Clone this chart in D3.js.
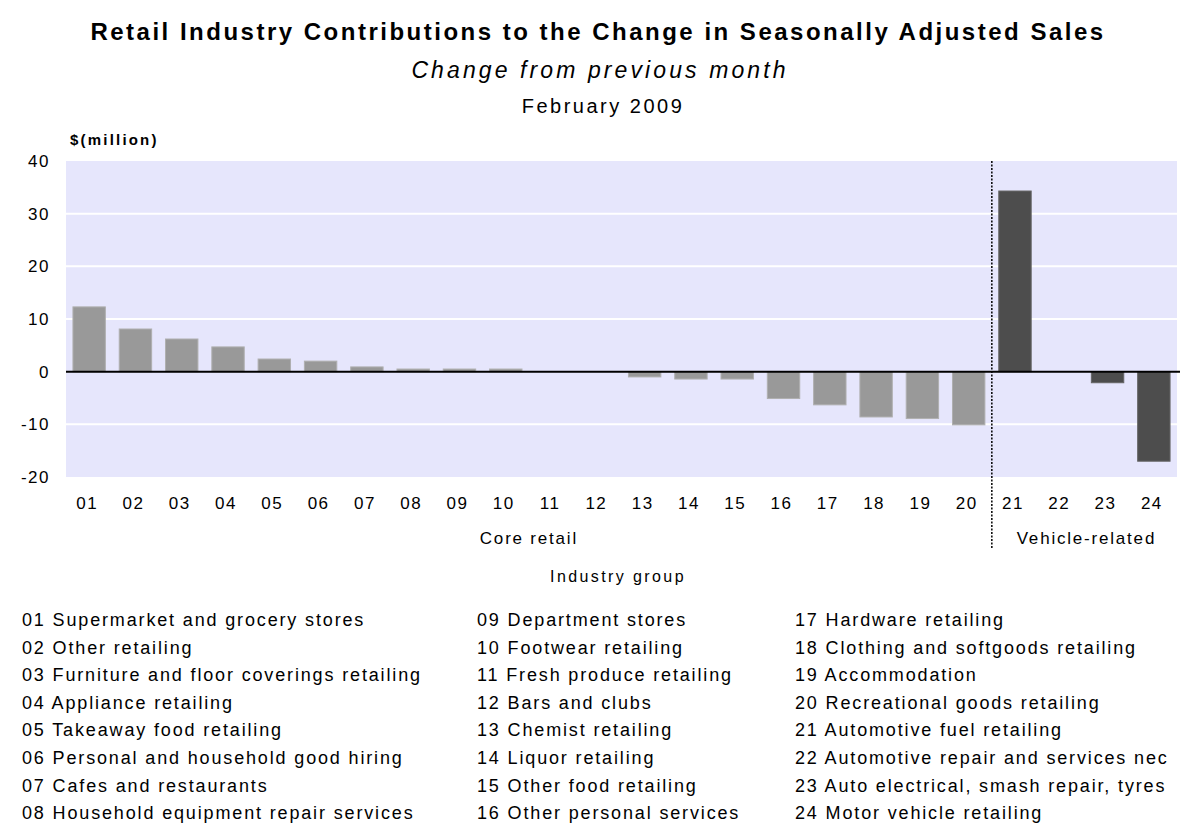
<!DOCTYPE html>
<html>
<head>
<meta charset="utf-8">
<script src="https://cdn.jsdelivr.net/npm/d3@7"></script>
<style>
	body { margin: 0; background: #fff; }
	#app { width: 1181px; height: 825px; }
	text { font-family: "Liberation Sans", Arial, sans-serif; fill: #000; }
</style>
</head>
<body>
<div id="app"></div>
<script>
// industry codes along the x axis
const codes = ['01', '02', '03', '04', '05', '06', '07', '08', '09', '10', '11', '12',
	'13', '14', '15', '16', '17', '18', '19', '20', '21', '22', '23', '24'];

// contribution to change, $ million
const values = [12.3, 8.1, 6.2, 4.7, 2.4, 2.0, 0.9, 0.5, 0.5, 0.5, 0, 0,
	-1.0, -1.4, -1.4, -5.1, -6.3, -8.6, -8.9, -10.1, 34.3, 0, -2.1, -17.0];

const groups = ['Core retail', 'Core retail', 'Core retail', 'Core retail', 'Core retail', 'Core retail',
	'Core retail', 'Core retail', 'Core retail', 'Core retail', 'Core retail', 'Core retail',
	'Core retail', 'Core retail', 'Core retail', 'Core retail', 'Core retail', 'Core retail',
	'Core retail', 'Core retail', 'Vehicle-related', 'Vehicle-related', 'Vehicle-related', 'Vehicle-related'];

const names = ['Supermarket and grocery stores', 'Other retailing', 'Furniture and floor coverings retailing',
	'Appliance retailing', 'Takeaway food retailing', 'Personal and household good hiring',
	'Cafes and restaurants', 'Household equipment repair services', 'Department stores',
	'Footwear retailing', 'Fresh produce retailing', 'Bars and clubs', 'Chemist retailing',
	'Liquor retailing', 'Other food retailing', 'Other personal services', 'Hardware retailing',
	'Clothing and softgoods retailing', 'Accommodation', 'Recreational goods retailing',
	'Automotive fuel retailing', 'Automotive repair and services nec',
	'Auto electrical, smash repair, tyres', 'Motor vehicle retailing'];

const yTicks = [-20, -10, 0, 10, 20, 30, 40];

const data = codes.map((c, i) => ({ code: c, value: values[i], group: groups[i], name: names[i] }));

const outerWidth = 1181,
	outerHeight = 825,
	margin = { top: 161, right: 4, bottom: 348, left: 66 },
	width = outerWidth - margin.left - margin.right,
	height = outerHeight - margin.top - margin.bottom;

const svg = d3.select('#app').append('svg')
	.attr('width', outerWidth)
	.attr('height', outerHeight);

// titles
svg.append('text')
	.attr('x', 598).attr('y', 40)
	.attr('text-anchor', 'middle')
	.attr('font-family', '"DejaVu Sans", sans-serif')
	.attr('font-size', 24).attr('font-weight', 'bold')
	.attr('letter-spacing', 2.5)
	.text('Retail Industry Contributions to the Change in Seasonally Adjusted Sales');

svg.append('text')
	.attr('x', 600).attr('y', 78)
	.attr('text-anchor', 'middle')
	.attr('font-size', 23).attr('font-style', 'italic')
	.attr('letter-spacing', 3.1)
	.text('Change from previous month');

svg.append('text')
	.attr('x', 603).attr('y', 113)
	.attr('text-anchor', 'middle')
	.attr('font-size', 20)
	.attr('letter-spacing', 2.5)
	.text('February 2009');

svg.append('text')
	.attr('x', 70).attr('y', 145)
	.attr('font-size', 15).attr('font-weight', 'bold')
	.attr('fill', '#222')
	.attr('letter-spacing', 2.2)
	.text('$(million)');

const graph = svg.append('g')
	.attr('transform', `translate(${ margin.left }, ${ margin.top })`);

const x = d3.scaleBand()
	.domain(codes)
	.range([0, width])
	.paddingInner(0.3)
	.paddingOuter(0.15);

const y = d3.scaleLinear()
	.domain([-20, 40])
	.range([height, 0]);

graph.append('rect')
	.attr('width', width)
	.attr('height', height)
	.attr('fill', '#e6e6fc');

graph.append('g')
	.selectAll('line')
	.data(yTicks.filter(d => d !== 0 && d !== 40 && d !== -20))
	.enter().append('line')
	.attr('x1', 0).attr('x2', width)
	.attr('y1', d => y(d)).attr('y2', d => y(d))
	.attr('stroke', '#fff')
	.attr('stroke-width', 2);

graph.append('g')
	.selectAll('rect')
	.data(data.filter(d => d.value !== 0))
	.enter().append('rect')
	.attr('x', d => x(d.code))
	.attr('width', x.bandwidth())
	.attr('y', d => y(Math.max(0, d.value)))
	.attr('height', d => Math.abs(y(d.value) - y(0)))
	.attr('fill', d => d.group === 'Core retail' ? '#999999' : '#4d4d4d')
	.attr('stroke', d => d.group === 'Core retail' ? '#b0b0b0' : '#666')
	.attr('stroke-width', 1);

// zero line
graph.append('line')
	.attr('x1', 0).attr('x2', width + 3)
	.attr('y1', y(0)).attr('y2', y(0))
	.attr('stroke', '#000')
	.attr('stroke-width', 2);

// y axis labels (plain hyphen for negatives, as in the original)
const yAxis = graph.append('g')
	.call(d3.axisLeft(y).tickValues(yTicks).tickFormat(d => String(d)).tickSize(0).tickPadding(16));
yAxis.select('.domain').remove();
yAxis.selectAll('text')
	.attr('font-size', 17)
	.attr('letter-spacing', 1.5)
	.attr('font-family', '"Liberation Sans", Arial, sans-serif');

// x axis labels
const xAxis = graph.append('g')
	.attr('transform', `translate(0, ${ height })`)
	.call(d3.axisBottom(x).tickSize(0).tickPadding(20));
xAxis.select('.domain').remove();
xAxis.selectAll('text')
	.attr('font-size', 17)
	.attr('letter-spacing', 1.5)
	.attr('dx', -2)
	.attr('font-family', '"Liberation Sans", Arial, sans-serif');

// group divider
const split = (x('20') + x.bandwidth() + x('21')) / 2;
graph.append('line')
	.attr('x1', split).attr('x2', split)
	.attr('y1', 0).attr('y2', 388)
	.attr('stroke', '#000')
	.attr('stroke-width', 1.5)
	.attr('stroke-dasharray', '2,1.5');

// group labels
const groupNames = ['Core retail', 'Vehicle-related'];
graph.append('g')
	.selectAll('text')
	.data(groupNames)
	.enter().append('text')
	.attr('x', g => {
		const left = g === 'Core retail' ? 0 : split;
		const right = g === 'Core retail' ? split : width + 4;
		return (left + right) / 2;
	})
	.attr('y', 383)
	.attr('text-anchor', 'middle')
	.attr('font-size', 17)
	.attr('letter-spacing', 1.8)
	.text(g => g);

svg.append('text')
	.attr('x', 618).attr('y', 582)
	.attr('text-anchor', 'middle')
	.attr('font-size', 16)
	.attr('letter-spacing', 2.4)
	.text('Industry group');

// legend in three columns
const legendCols = [22, 477, 795];
svg.append('g')
	.selectAll('text')
	.data(data)
	.enter().append('text')
	.attr('x', (d, i) => legendCols[Math.floor(i / 8)])
	.attr('y', (d, i) => 626 + (i % 8) * 27.6)
	.attr('font-size', 18)
	.attr('letter-spacing', 1.85)
	.text(d => `${ d.code } ${ d.name }`);
</script>
</body>
</html>
